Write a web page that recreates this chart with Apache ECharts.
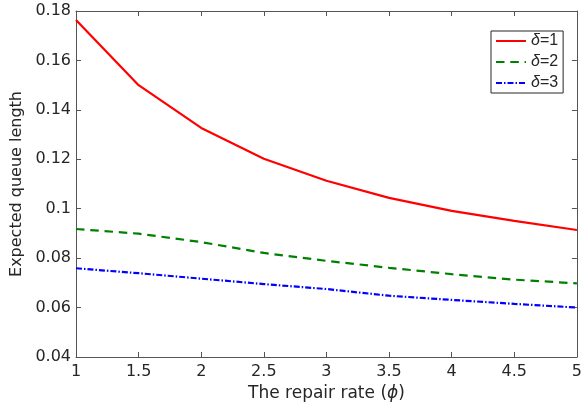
<!DOCTYPE html>
<html>
<head>
<meta charset="utf-8">
<script src="https://cdn.jsdelivr.net/npm/echarts@6/dist/echarts.min.js"></script>
<style>
html,body{margin:0;padding:0;background:#fff;}
#chart{width:585px;height:410px;}
</style>
</head>
<body>
<div id="chart"></div>
<script>
var phi = [1, 1.5, 2, 2.5, 3, 3.5, 4, 4.5, 5];
var delta1 = [0.1764, 0.1500, 0.1327, 0.1202, 0.1113, 0.1044, 0.0991, 0.0951, 0.0914];
var delta2 = [0.0918, 0.0899, 0.0865, 0.0821, 0.0789, 0.0761, 0.0735, 0.0713, 0.0698];
var delta3 = [0.0759, 0.0739, 0.0717, 0.0695, 0.0675, 0.0648, 0.0631, 0.0615, 0.0600];
var seriesNames = ['δ=1', 'δ=2', 'δ=3'];
var xTitle = 'The repair rate (';
var yTitle = 'Expected queue length';

function pairs(ys) { return phi.map(function (x, i) { return [x, ys[i]]; }); }

var axisColor = '#555';
var font = 'DejaVu Sans';
var chart = echarts.init(document.getElementById('chart'), null, {renderer: 'canvas'});
var commonHidden = {
  axisLine: {show: true, lineStyle: {color: axisColor, width: 1}},
  axisTick: {show: true, inside: true, length: 5, lineStyle: {color: axisColor}},
  axisLabel: {show: false},
  splitLine: {show: false}
};
chart.setOption({
  animation: false,
  backgroundColor: '#fff',
  grid: {left: 76, right: 3, top: 11, bottom: 53, containLabel: false},
  legend: {
    show: true,
    data: seriesNames,
    orient: 'vertical',
    left: 491, top: 31,
    padding: [2, 5, 2, 4],
    itemGap: 5,
    itemWidth: 30,
    itemHeight: 14,
    itemStyle: {opacity: 0},
    backgroundColor: '#fff',
    borderColor: '#262626',
    borderWidth: 1,
    formatter: function (n) { return '{i|δ}' + n.slice(1); },
    textStyle: {
      fontFamily: 'Liberation Sans', fontSize: 16, color: '#262626',
      rich: {i: {fontFamily: 'Liberation Sans', fontSize: 16, fontStyle: 'italic', color: '#262626'}}
    }
  },
  xAxis: [{
    type: 'value', min: 1, max: 5, interval: 0.5, position: 'bottom',
    name: xTitle + '{i|ϕ})',
    nameLocation: 'middle', nameGap: 27,
    nameTextStyle: {fontFamily: font, fontSize: 17, color: '#262626',
      rich: {i: {fontFamily: font, fontSize: 17, fontStyle: 'italic', color: '#262626'}}},
    axisLine: {show: true, lineStyle: {color: axisColor, width: 1}},
    axisTick: {show: true, inside: true, length: 5, lineStyle: {color: axisColor}},
    axisLabel: {fontFamily: font, fontSize: 16, color: '#262626', margin: 7},
    splitLine: {show: false}
  }, Object.assign({type: 'value', min: 1, max: 5, interval: 0.5, position: 'top'}, commonHidden)],
  yAxis: [{
    type: 'value', min: 0.04, max: 0.18, interval: 0.02, position: 'left',
    name: yTitle, nameLocation: 'middle', nameGap: 37,
    nameTextStyle: {fontFamily: font, fontSize: 16, color: '#262626'},
    axisLine: {show: true, lineStyle: {color: axisColor, width: 1}},
    axisTick: {show: true, inside: true, length: 5, lineStyle: {color: axisColor}},
    axisLabel: {fontFamily: font, fontSize: 16, color: '#262626', margin: 5},
    splitLine: {show: false}
  }, Object.assign({type: 'value', min: 0.04, max: 0.18, interval: 0.02, position: 'right'}, commonHidden)],
  series: [
    {name: seriesNames[0], type: 'line', data: pairs(delta1), showSymbol: false, symbol: 'none',
     lineStyle: {color: '#ff0000', width: 2.2, type: 'solid'}, itemStyle: {color: '#ff0000'}},
    {name: seriesNames[1], type: 'line', data: pairs(delta2), showSymbol: false, symbol: 'none',
     lineStyle: {color: '#008000', width: 2.2, type: [8.5, 5.8]}, itemStyle: {color: '#008000'}},
    {name: seriesNames[2], type: 'line', data: pairs(delta3), showSymbol: false, symbol: 'none',
     lineStyle: {color: '#0000ff', width: 2.2, type: [6, 2, 1.5, 2]}, itemStyle: {color: '#0000ff'}}
  ]
});
</script>
</body>
</html>
